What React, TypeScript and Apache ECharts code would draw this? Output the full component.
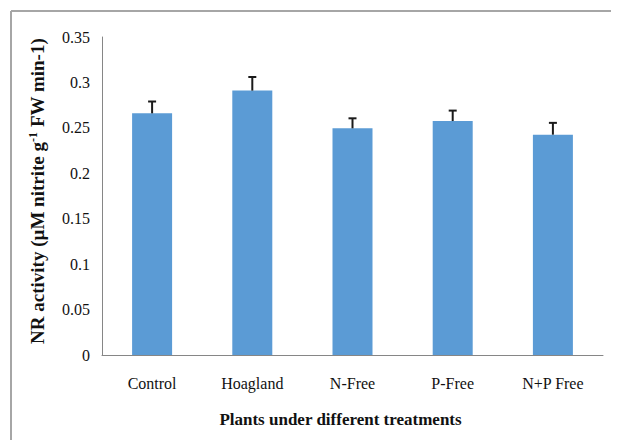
import React, { useEffect, useRef } from "react";
import * as echarts from "echarts";

const categories = ["Control", "Hoagland", "N-Free", "P-Free", "N+P Free"];
const activity = [0.266, 0.291, 0.2495, 0.2575, 0.2425];
const errors = [0.013, 0.015, 0.011, 0.0115, 0.013];
const yTicks = { min: 0, max: 0.35, interval: 0.05 };

export default function App() {
  const ref = useRef<HTMLDivElement>(null);
  useEffect(() => {
    if (!ref.current) return;
    const chart = echarts.init(ref.current, undefined, { renderer: "svg" });
    const font = "'Liberation Serif', 'Times New Roman', serif";
    chart.setOption({
      animation: false,
      backgroundColor: "#ffffff",
      grid: { left: 94, right: 16, top: 29, bottom: 85 },
      graphic: [
        { type: "line", shape: { x1: 3, y1: 3, x2: 611, y2: 3 }, style: { stroke: "#a6a6a6", lineWidth: 2 } },
        { type: "line", shape: { x1: 3, y1: 3, x2: 3, y2: 432 }, style: { stroke: "#a6a6a6", lineWidth: 2 } },
      ],
      xAxis: {
        type: "category",
        data: categories,
        axisLine: { lineStyle: { color: "#868686", width: 1 } },
        axisTick: { show: false },
        axisLabel: { color: "#111", fontFamily: font, fontSize: 16, margin: 20 },
        name: "Plants under different treatments",
        nameLocation: "middle",
        nameGap: 56,
        nameTextStyle: { color: "#111", fontFamily: font, fontSize: 17, fontWeight: "bold", padding: [0, 24, 0, 0] },
      },
      yAxis: {
        type: "value",
        min: yTicks.min,
        max: yTicks.max,
        interval: yTicks.interval,
        splitLine: { show: false },
        axisLine: { show: true, lineStyle: { color: "#868686", width: 1 } },
        axisTick: { show: false },
        axisLabel: { color: "#111", fontFamily: font, fontSize: 16, margin: 12 },
        name: "{a|NR activity (µM nitrite g}{s|-1}{a| FW min-1)}",
        nameLocation: "middle",
        nameRotate: 90,
        nameGap: 54,
        nameTextStyle: {
          padding: [0, 0, 0, 10],
          rich: {
            a: { fontFamily: font, fontSize: 19, fontWeight: "bold", color: "#111" },
            s: { fontFamily: font, fontSize: 12, fontWeight: "bold", color: "#111", verticalAlign: "top", padding: [0, 0, 9, 0] },
          },
        },
      },
      series: [
        {
          type: "bar",
          data: activity,
          barWidth: 40,
          itemStyle: { color: "#5b9bd5" },
        },
        {
          type: "custom",
          data: activity.map((v, i) => [i, v, errors[i]]),
          renderItem: (params: any, api: any) => {
            const x = api.value(0);
            const v = api.value(1);
            const e = api.value(2);
            const base = api.coord([x, v]);
            const top = api.coord([x, v + e]);
            const cap = 4;
            const style = { stroke: "#1a1a1a", lineWidth: 2 };
            return {
              type: "group",
              children: [
                { type: "line", shape: { x1: base[0], y1: base[1], x2: top[0], y2: top[1] }, style },
                { type: "line", shape: { x1: top[0] - cap, y1: top[1], x2: top[0] + cap, y2: top[1] }, style },
              ],
            };
          },
          z: 5,
        },
      ],
    });
    return () => chart.dispose();
  }, []);
  return <div ref={ref} style={{ width: 611, height: 432 }} />;
}
